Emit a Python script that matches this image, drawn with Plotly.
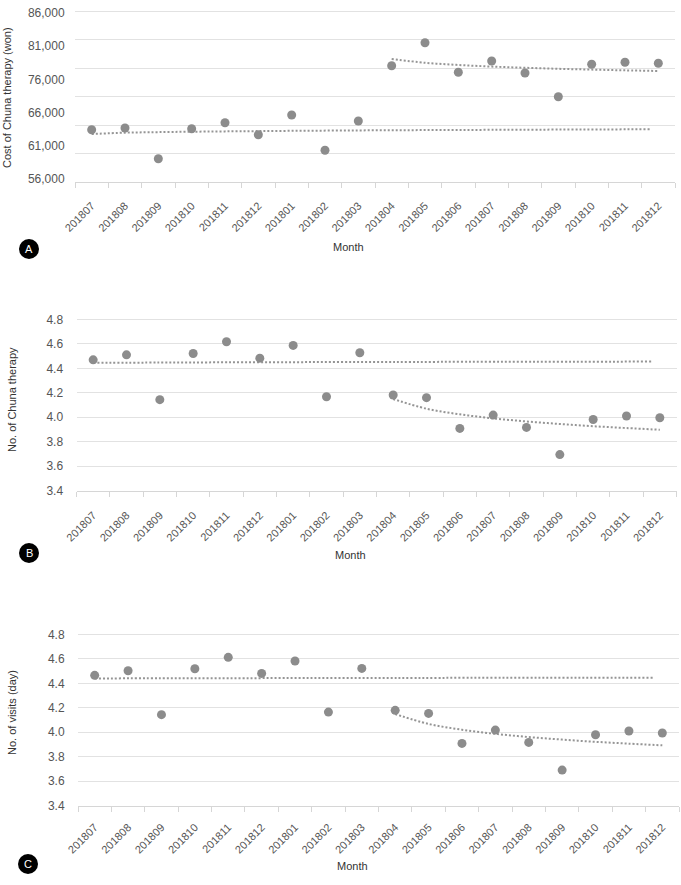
import plotly.graph_objects as go

W, H = 681, 885

months = ["201807", "201808", "201809", "201810", "201811", "201812", "201801", "201802", "201803",
          "201804", "201805", "201806", "201807", "201808", "201809", "201810", "201811", "201812"]
t_all = list(range(1, 19))
t_pre = list(range(1, 10))
t_post = list(range(10, 19))

# Panel A: cost of Chuna therapy (won)
cost_pre = [65175, 65474, 60088, 65351, 66404, 64298, 67754, 61561, 66702]
cost_post = [76404, 80439, 75246, 77228, 75123, 70965, 76649, 77000, 76825]
cost_pre_trend_t = [1, 2, 3, 5, 9, 13, 17.75]
cost_pre_trend = [64420, 64650, 64750, 64880, 65050, 65150, 65250]
cost_post_trend = [77580, 76920, 76530, 76250, 76040, 75860, 75720, 75590, 75475]
cost_grid_vals = [56000, 61000, 66000, 71000, 76000, 81000, 86000]
cost_tick_text = ["56,000", "61,000", "66,000", "76,000", "81,000", "86,000"]

# Panel B: number of Chuna therapy
chuna_pre = [4.469, 4.510, 4.144, 4.521, 4.617, 4.483, 4.587, 4.168, 4.527]
chuna_post = [4.182, 4.160, 3.909, 4.018, 3.917, 3.695, 3.982, 4.010, 3.996]
chuna_pre_trend_t = [1, 3, 5, 10, 17.75]
chuna_pre_trend = [4.445, 4.447, 4.449, 4.452, 4.455]
chuna_post_trend = [4.149, 4.070, 4.024, 3.991, 3.966, 3.945, 3.927, 3.912, 3.898]

# Panel C: number of visits (day)
visit_pre = [4.465, 4.503, 4.144, 4.519, 4.612, 4.481, 4.582, 4.165, 4.522]
visit_post = [4.179, 4.154, 3.909, 4.018, 3.917, 3.691, 3.980, 4.010, 3.994]
visit_pre_trend_t = [1, 3, 5, 10, 17.75]
visit_pre_trend = [4.440, 4.441, 4.442, 4.444, 4.446]
visit_post_trend = [4.149, 4.068, 4.021, 3.987, 3.961, 3.940, 3.922, 3.907, 3.893]

small_ticks = [0.5, 1.5, 2.5, 3.5, 4.5, 5.5, 6.5, 7.5, 8.5, 9.5, 10.5, 11.5, 12.5, 13.5, 14.5, 15.5, 16.5, 17.5, 18.5]
num_ticks = [3.4, 3.6, 3.8, 4.0, 4.2, 4.4, 4.6, 4.8]
num_tick_text = ["3.4", "3.6", "3.8", "4.0", "4.2", "4.4", "4.6", "4.8"]

FONT = "Liberation Sans, Arial, Helvetica, sans-serif"
GRID = "#e2e2e2"
MARK = "#8c8c8c"
TREND = "#959595"

fig = go.Figure()


def px_x(p):
    return p / W


def px_y(p):
    return 1 - p / H


panels = [
    dict(x="x", y="y", xd=(75, 675), yd=(5, 182), tl=12,
         pre=cost_pre, post=cost_post, pt_t=cost_pre_trend_t, pt=cost_pre_trend, qt=cost_post_trend),
    dict(x="x2", y="y2", xd=(76.5, 676.5), yd=(313, 490.7), tl=13,
         pre=chuna_pre, post=chuna_post, pt_t=chuna_pre_trend_t, pt=chuna_pre_trend, qt=chuna_post_trend),
    dict(x="x3", y="y3", xd=(78, 679), yd=(628, 805.7), tl=10,
         pre=visit_pre, post=visit_post, pt_t=visit_pre_trend_t, pt=visit_pre_trend, qt=visit_post_trend),
]

for p in panels:
    fig.add_trace(go.Scatter(x=p["pt_t"], y=p["pt"], mode="lines", xaxis=p["x"], yaxis=p["y"],
                             line=dict(color=TREND, width=2, dash="2px,2px", shape="spline"),
                             hoverinfo="skip", showlegend=False))
    fig.add_trace(go.Scatter(x=t_post, y=p["qt"], mode="lines", xaxis=p["x"], yaxis=p["y"],
                             line=dict(color=TREND, width=2, dash="2px,2px", shape="spline"),
                             hoverinfo="skip", showlegend=False))
    fig.add_trace(go.Scatter(x=t_all, y=p["pre"] + p["post"], mode="markers", xaxis=p["x"], yaxis=p["y"],
                             marker=dict(color=MARK, size=9, line=dict(width=0)), showlegend=False))

# invisible trace for the label axis of panel A
fig.add_trace(go.Scatter(x=[None], y=[None], xaxis="x", yaxis="y4", showlegend=False, hoverinfo="skip"))

xcommon = dict(range=[0.5, 18.5], tickmode="array", tickvals=t_all, ticktext=months, tickangle=-45,
               ticks="outside", tickcolor="rgba(0,0,0,0)", automargin=False,
               showgrid=False, zeroline=False, showline=True, linecolor="#d6d6d6", linewidth=1,
               tickfont=dict(family=FONT, size=11, color="#555555"),
               minor=dict(tickmode="array", tickvals=small_ticks, ticks="outside", ticklen=5,
                          tickcolor="#d6d6d6", showgrid=False))

layout = dict(template="none", width=W, height=H, autosize=False, margin=dict(l=0, r=0, t=0, b=0, pad=0),
              plot_bgcolor="white", paper_bgcolor="white", showlegend=False,
              font=dict(family=FONT))

for i, p in enumerate(panels):
    xk = "xaxis" if i == 0 else f"xaxis{i+1}"
    yk = "yaxis" if i == 0 else f"yaxis{i+1}"
    xd = [px_x(p["xd"][0]), px_x(p["xd"][1])]
    yd = [px_y(p["yd"][1]), px_y(p["yd"][0])]
    layout[xk] = dict(xcommon, domain=xd, anchor=p["y"], ticklen=p["tl"])
    if i == 0:
        layout[yk] = dict(domain=yd, anchor=p["x"], range=[56000, 87052.6], tickmode="array",
                          tickvals=cost_grid_vals, showticklabels=False, ticks="", automargin=False,
                          showgrid=True, gridcolor=GRID, gridwidth=1, zeroline=False, showline=False)
    else:
        layout[yk] = dict(domain=yd, anchor=p["x"], range=[3.4, 4.852], tickmode="array",
                          tickvals=num_ticks, ticktext=num_tick_text, automargin=False,
                          ticks="outside", ticklen=10, tickcolor="rgba(0,0,0,0)",
                          tickfont=dict(family=FONT, size=12, color="#555555"),
                          showgrid=True, gridcolor=GRID, gridwidth=1, zeroline=False, showline=False)

layout["yaxis4"] = dict(overlaying="y", anchor="x", side="left", range=[-0.0904, 5.241],
                        tickmode="array", tickvals=[0, 1, 2, 3, 4, 5], ticktext=cost_tick_text,
                        ticks="outside", ticklen=7, tickcolor="rgba(0,0,0,0)", automargin=False,
                        tickfont=dict(family=FONT, size=12, color="#555555"),
                        showgrid=False, zeroline=False, showline=False)

fig.update_layout(**layout)

annotations = []
shapes = []
ytitles = [("Cost of Chuna therapy (won)", 7, 98), ("No. of Chuna therapy", 12, 400), ("No. of visits (day)", 12, 713)]
for txt, xp, yp in ytitles:
    annotations.append(dict(text=txt, x=px_x(xp), y=px_y(yp), xref="paper", yref="paper", showarrow=False,
                            textangle=-90, xanchor="center", yanchor="middle",
                            font=dict(family=FONT, size=11, color="#333333")))
for xp, yp in [(348, 247), (350, 555), (352, 866)]:
    annotations.append(dict(text="Month", x=px_x(xp), y=px_y(yp), xref="paper", yref="paper", showarrow=False,
                            xanchor="center", yanchor="middle",
                            font=dict(family=FONT, size=11, color="#333333")))
for letter, xp, yp in [("A", 29, 249), ("B", 29, 553), ("C", 28, 864)]:
    r = 10
    shapes.append(dict(type="circle", xref="paper", yref="paper",
                       x0=px_x(xp - r), x1=px_x(xp + r), y0=px_y(yp + r), y1=px_y(yp - r),
                       fillcolor="black", line=dict(color="black", width=0)))
    annotations.append(dict(text=letter, x=px_x(xp), y=px_y(yp), xref="paper", yref="paper", showarrow=False,
                            xanchor="center", yanchor="middle",
                            font=dict(family=FONT, size=11, color="white")))

fig.update_layout(annotations=annotations, shapes=shapes)
fig.write_html("out.html")
